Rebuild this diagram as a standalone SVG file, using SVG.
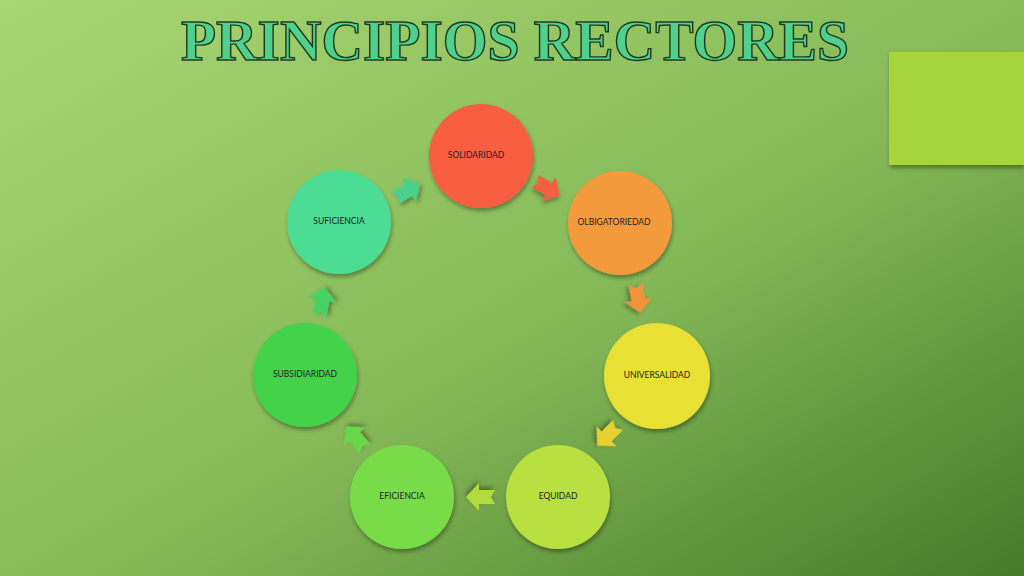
<svg xmlns="http://www.w3.org/2000/svg" width="1024" height="576" viewBox="0 0 1024 576">
<defs>
<linearGradient id="bg" x1="0" y1="0" x2="1" y2="1"><stop offset="0" stop-color="#a8d672"/><stop offset="0.55" stop-color="#85b958"/><stop offset="1" stop-color="#467a28"/></linearGradient>
<filter id="sh" x="-20%" y="-20%" width="150%" height="150%"><feDropShadow dx="1" dy="3" stdDeviation="2" flood-color="#000" flood-opacity="0.35"/></filter>
<path id="arr" d="M-14,-7 L2,-7 L2,-14 L15,0 L2,14 L2,7 L-14,7 L-10,0 Z"/>
</defs>
<style>
text{font-family:"Lato","Liberation Sans",sans-serif;font-size:8.5px;fill:#222;text-anchor:middle;dominant-baseline:middle}
.t{font-family:"Liberation Serif",serif;font-weight:bold;font-size:56px;fill:#4fd08c;stroke:#1e3a1e;stroke-width:1.4;dominant-baseline:auto}
circle{filter:url(#sh)}
use{filter:url(#sh)}
</style>
<rect width="1024" height="576" fill="url(#bg)"/>
<rect x="889" y="52" width="135" height="113" fill="#a6d63a" filter="url(#sh)"/>
<text class="t" x="515" y="60" textLength="668" lengthAdjust="spacingAndGlyphs">PRINCIPIOS RECTORES</text>
<g id="connectors">
<use href="#arr" fill="#f2603f" transform="translate(547,188) rotate(30)"/>
<use href="#arr" fill="#f0933a" transform="translate(638,298) rotate(80)"/>
<use href="#arr" fill="#e6d030" transform="translate(608,435) rotate(135)"/>
<use href="#arr" fill="#b2dc3c" transform="translate(481,497) rotate(180)"/>
<use href="#arr" fill="#68d84a" transform="translate(356,438) rotate(-130)"/>
<use href="#arr" fill="#46d264" transform="translate(322,302) rotate(-80)"/>
<use href="#arr" fill="#48d08a" transform="translate(407,191) rotate(-30)"/>
</g>
<g id="n1"><circle cx="481" cy="156" r="52" fill="#f75e40"/><text x="476" y="156">SOLIDARIDAD</text></g>
<g id="n2"><circle cx="620" cy="223" r="52" fill="#f39a3c"/><text x="614" y="223" font-size="7.5">OLBIGATORIEDAD</text></g>
<g id="n3"><circle cx="657" cy="376" r="53" fill="#e8e034"/><text x="657" y="376">UNIVERSALIDAD</text></g>
<g id="n4"><circle cx="558" cy="497" r="52" fill="#b8e040"/><text x="558" y="497">EQUIDAD</text></g>
<g id="n5"><circle cx="402" cy="497" r="52" fill="#78dc4a"/><text x="402" y="497">EFICIENCIA</text></g>
<g id="n6"><circle cx="305" cy="375" r="52" fill="#44d24c"/><text x="305" y="375" font-size="8">SUBSIDIARIDAD</text></g>
<g id="n7"><circle cx="339" cy="222" r="52" fill="#4edc94"/><text x="339" y="222">SUFICIENCIA</text></g>
</svg>
